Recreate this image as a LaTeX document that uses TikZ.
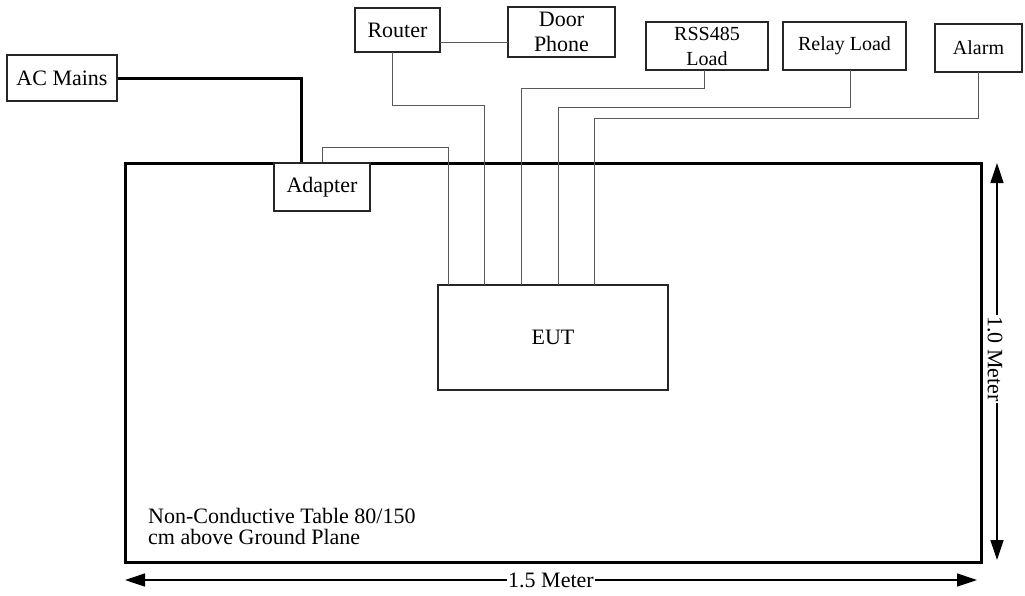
\documentclass[tikz,border=0pt]{standalone}
\usepackage{fontspec}
\setmainfont{Liberation Serif}
\usetikzlibrary{arrows.meta}
\begin{document}
\begin{tikzpicture}[x=1pt,y=-1pt,
  box/.style={draw=black!85,line width=1.3pt,inner sep=0pt,align=center,font=\fontsize{22pt}{25pt}\selectfont},
  smallbox/.style={box,font=\fontsize{20pt}{25pt}\selectfont},
  wire/.style={draw=black!65,line width=1pt},
  power/.style={draw=black,line width=3pt},
  dim/.style={draw=black,line width=1.4pt,{Triangle[length=20pt,width=13pt]}-{Triangle[length=20pt,width=13pt]}},
  dimlabel/.style={fill=white,inner sep=1pt,font=\fontsize{22pt}{24pt}\selectfont}]
\useasboundingbox (0,0) rectangle (1025,595);
% table
\node[draw=black,line width=3pt,minimum width=856pt,minimum height=399pt,inner sep=0pt] (table) at (553,362.5) {};
% boxes
\node[box,minimum width=110pt,minimum height=46pt] (ac) at (62,78) {AC Mains};
\node[box,minimum width=85pt,minimum height=44pt] (router) at (397.5,30) {Router};
\node[box,minimum width=107pt,minimum height=50pt] (door) at (561.5,32) {Door\\Phone};
\node[smallbox,minimum width=122pt,minimum height=48pt] (rss) at (707,46) {RSS485\\Load};
\node[smallbox,minimum width=123pt,minimum height=48pt] (relay) at (844.5,46) {Relay Load};
\node[smallbox,minimum width=87pt,minimum height=48pt] (alarm) at (978.5,48) {Alarm};
\node[box,minimum width=230pt,minimum height=105pt] (eut) at (553,337.5) {EUT};
% port coordinates
\coordinate (p1) at (448,285);
\coordinate (p2) at (484,285);
\coordinate (p3) at (521,285);
\coordinate (p4) at (558,285);
\coordinate (p5) at (594,285);
\coordinate (acin) at (301,163);
\coordinate (adout) at (322,163);
\coordinate (rout) at (392,52);
\coordinate (rdp) at (440,42);
\coordinate (dpin) at (508,42);
\coordinate (rssout) at (704,70);
\coordinate (relout) at (850,70);
\coordinate (alout) at (978,72);
% wires
\draw[power] (ac.east) -| (acin);
\draw[wire] (adout) -- ++(0,-16) -| (p1);
\draw[wire] (rout) -- ++(0,53) -| (p2);
\draw[wire] (rdp) -- (dpin);
\draw[wire] (rssout) -- ++(0,18) -| (p3);
\draw[wire] (relout) -- ++(0,37) -| (p4);
\draw[wire] (alout) -- ++(0,46) -| (p5);
% adapter on top of table border
\node[box,minimum width=96pt,minimum height=48pt,fill=white] (adapter) at (322,187) {Adapter};
% dimensions
\coordinate (hl) at (125,580);
\coordinate (hr) at (977,580);
\coordinate (vt) at (997,163);
\coordinate (vb) at (997,560);
\draw[dim] (hl) -- (hr);
\node[dimlabel] (hlab) at (551,580) {1.5 Meter};
\draw[dim] (vt) -- (vb);
\node[dimlabel,rotate=-90] (vlab) at (995,359) {1.0 Meter};
% table note
\node[anchor=base west,inner sep=0pt,align=left,font=\fontsize{22pt}{21pt}\selectfont] (note) at (148,544) {Non-Conductive Table 80/150\\cm above Ground Plane};
\end{tikzpicture}
\end{document}
